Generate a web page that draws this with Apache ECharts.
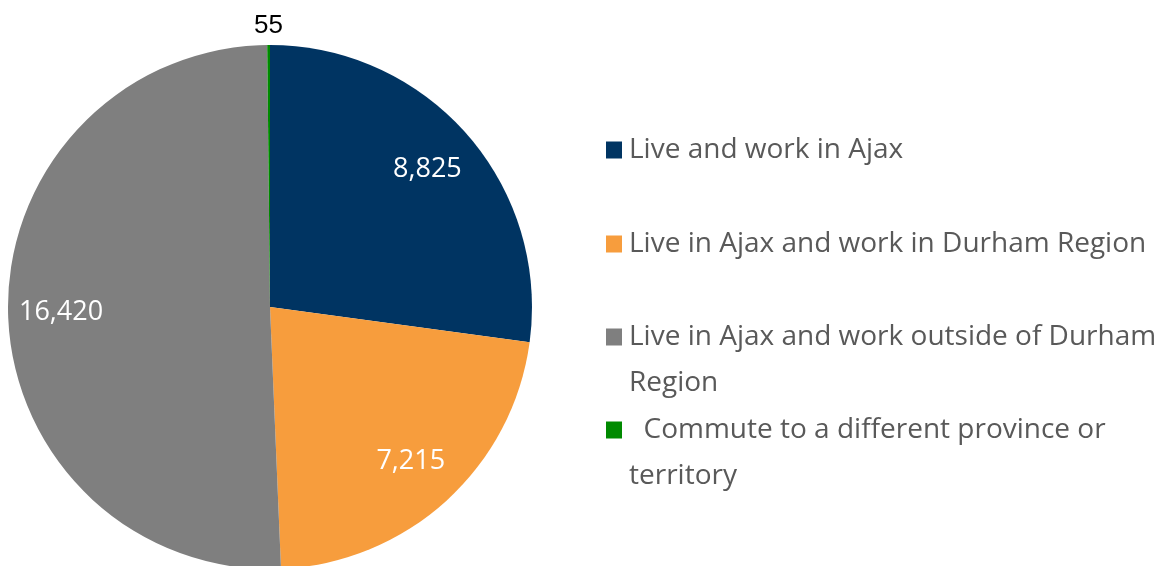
<!DOCTYPE html>
<html>
<head>
<meta charset="utf-8">
<script src="https://cdn.jsdelivr.net/npm/echarts@6/dist/echarts.min.js"></script>
<style>
  html, body { margin: 0; padding: 0; background: #fff; }
  #main { width: 1175px; height: 566px; }
</style>
</head>
<body>
<div id="main"></div>
<script>
// commuting flows, Ajax residents
const categories = [
  'Live and work in Ajax',
  'Live in Ajax and work in Durham Region',
  'Live in Ajax and work outside of Durham Region',
  '  Commute to a different province or territory'
];
const values = [8825, 7215, 16420, 55];
const colors = ['#003462', '#F79D3D', '#7F7F7F', '#008A00'];

const FONT = '"Open Sans", Lato, sans-serif';
const CENTER = [270, 307];
const R = 262;

function fmt(v) {
  return String(v).replace(/\B(?=(\d{3})+(?!\d))/g, ',');
}

const pieData = categories.map((name, i) => ({
  name: name,
  value: values[i],
  itemStyle: { color: colors[i] }
}));

// one legend per entry so spacing matches the original
// (wrapped entries get a blank first line so the icon sits on line one)
function makeLegend(i, top, twoLines) {
  return {
    data: [categories[i]],
    orient: 'vertical',
    left: 606,
    top: top,
    padding: 0,
    icon: 'rect',
    itemWidth: 16,
    itemHeight: 17,
    selectedMode: false,
    formatter: name => twoLines ? '\n' + name : name,
    textStyle: {
      fontFamily: FONT,
      fontSize: 28,
      color: '#595959',
      lineHeight: 46,
      width: 545,
      overflow: 'break',
      padding: [0, 0, 0, 2]
    }
  };
}

let option = {
  animation: false,
  backgroundColor: '#fff',
  legend: [
    makeLegend(0, 127, false),
    makeLegend(1, 221, false),
    makeLegend(2, 268, true),
    makeLegend(3, 361, true)
  ],
  series: [
    {
      type: 'pie',
      center: CENTER,
      radius: R,
      startAngle: 90,
      clockwise: true,
      silent: true,
      label: { show: false },
      labelLine: { show: false },
      data: pieData
    },
    {
      // label ring for the large slices
      type: 'pie',
      center: CENTER,
      radius: [150, R],
      startAngle: 90,
      clockwise: true,
      silent: true,
      itemStyle: { color: 'rgba(0,0,0,0)' },
      label: {
        show: true,
        position: 'inside',
        fontFamily: FONT,
        fontSize: 27,
        color: '#ffffff',
        formatter: p => p.dataIndex === 3 ? '' : fmt(p.value)
      },
      labelLine: { show: false },
      data: pieData.map(d => ({ name: d.name, value: d.value }))
    },
    {
      // ring just outside the pie for the tiny slice label
      type: 'pie',
      center: CENTER,
      radius: [266, 290],
      startAngle: 90,
      clockwise: true,
      silent: true,
      itemStyle: { color: 'rgba(0,0,0,0)' },
      label: {
        show: true,
        position: 'inside',
        fontFamily: '"Liberation Sans", Arial, sans-serif',
        fontSize: 26,
        color: '#000000',
        formatter: p => p.dataIndex === 3 ? fmt(p.value) : ''
      },
      labelLine: { show: false },
      data: pieData.map(d => ({ name: d.name, value: d.value }))
    }
  ]
};

let myChart = echarts.init(document.getElementById('main'));
myChart.setOption(option);
</script>
</body>
</html>
